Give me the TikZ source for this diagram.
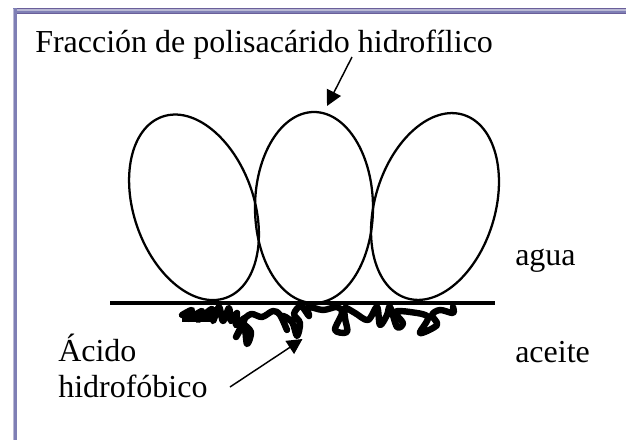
\documentclass[tikz,border=0pt]{standalone}
\usepackage{fontspec}
\setmainfont{Liberation Serif}
\usetikzlibrary{shapes.geometric,arrows.meta}
\definecolor{frameDark}{HTML}{6A5F9A}
\definecolor{framePale}{HTML}{B9B8D4}
\definecolor{frameMid}{HTML}{7F7FB5}
\tikzset{
  lobe/.style={draw=black,line width=1.7pt,ellipse,inner sep=0pt,minimum width=120*0.75pt,minimum height=192*0.75pt},
  label/.style={anchor=base west,inner sep=0pt,font=\fontsize{24}{24}\selectfont},
  pointer/.style={line width=1.1pt,-{Triangle[length=11.5pt,width=11.6pt]}}
}
\begin{document}
\begin{tikzpicture}[x=0.75pt,y=-0.75pt]
\useasboundingbox (0,0) rectangle (626,440);
% window frame
\fill[frameDark] (13,8) rectangle (626,14);
\fill[framePale] (13,9) rectangle (626,11);
\fill[frameMid] (13,11) rectangle (626,13);
\fill[frameMid] (13,8) rectangle (17,440);
\fill[framePale] (13,9) rectangle (14.2,440);
% polysaccharide lobes
\node[lobe,rotate=19.3] (lobeL) at (194,207.3) {};
\node[lobe] (lobeM) [minimum width=118*0.75pt,minimum height=191*0.75pt] at (314,207.5) {};
\node[lobe,rotate=-17.2] (lobeR) at (435,206.5) {};
% interface line
\coordinate (ifL) at (110,303);
\coordinate (ifR) at (495,303);
\draw[line width=2.4pt] (ifL) -- (ifR);
% hydrophobic tail
\draw[line width=4.8pt,line cap=round,line join=round] plot[smooth,tension=0.55] coordinates {
 (182,315) (192,310) (188,319) (202,311) (198,320) (212,309) (213,321) (219,307) (223,321) (229,308)
 (231,321) (237,313) (236,325) (245,318) (236,337) (244,326) (247,344) (251,332) (243,322) (251,314) (262,317) (273,311)
 (280,315) (287,330) (282,316) (292,322) (297,336) (300,323) (294,314) (301,306) (309,316) (308,307) (323,310)
 (337,307) (342,313) (335,330) (347,332) (345,318) (345,308) (355,313) (368,320) (377,307) (380,325)
 (387,315) (390,307) (397,327) (403,323) (395,312) (410,312) (428,317) (420,333) (437,325) (432,315)
 (440,310) (453,313) (453,307)};
\fill (182,311) rectangle (213,322);
% labels
\node[label] (title) at (35,52.7) {Fracción de polisacárido hidrofílico};
\node[label] (agua) at (515,265) {agua};
\node[label] (aceite) at (515,362) {aceite};
\node[label] (acido) at (58,361) {Ácido};
\node[label] (hidro) at (58,397) {hidrofóbico};
% pointers
\coordinate (tipA) at (327,106);
\coordinate (tailA) at (352,57);
\coordinate (tipB) at (302.5,339);
\coordinate (tailB) at (230,387);
\draw[pointer] (tailA) -- (tipA);
\draw[pointer] (tailB) -- (tipB);
\end{tikzpicture}
\end{document}
